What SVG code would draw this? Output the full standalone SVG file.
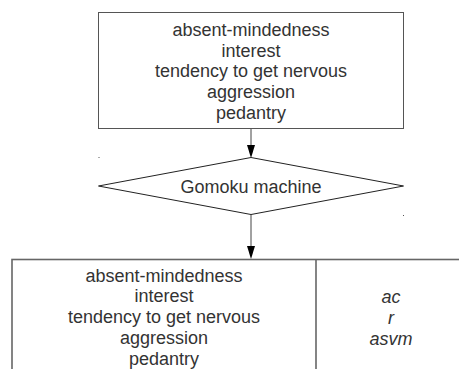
<svg xmlns="http://www.w3.org/2000/svg" width="459" height="369" viewBox="0 0 459 369">
<style>
  .lbl { font-family: "Liberation Sans", Arial, sans-serif; font-size: 18px; fill: #333; text-anchor: middle; }
  .it { font-style: italic; }
  .box { fill: #fff; stroke: #555; stroke-width: 1; }
  .box2 { fill: #fff; stroke: #666; stroke-width: 1.6; }
  .edge { fill: none; stroke: #444; stroke-width: 1; }
  .head { fill: #000; stroke: none; }
</style>
<rect width="459" height="369" fill="#fff"/>
<g id="connectors">
  <line class="edge" x1="251" y1="128.5" x2="251" y2="146"/>
  <polygon class="head" points="247,145 255,145 251,158"/>
  <line class="edge" x1="251" y1="214.5" x2="251" y2="247"/>
  <polygon class="head" points="247,246 255,246 251,259"/>
</g>
<g id="node-top">
  <rect class="box" x="98.5" y="12.5" width="305" height="116"/>
  <text class="lbl" x="251" y="36">absent-mindedness</text>
  <text class="lbl" x="251" y="56.7">interest</text>
  <text class="lbl" x="251" y="77.4">tendency to get nervous</text>
  <text class="lbl" x="251" y="98.1">aggression</text>
  <text class="lbl" x="251" y="118.8">pedantry</text>
</g>
<g id="node-decision">
  <polygon fill="#fff" stroke="#222" stroke-width="1" points="251,157.5 403.5,186 251,214.5 98.5,186"/>
  <text class="lbl" x="251" y="192.7">Gomoku machine</text>
  <rect x="98.5" y="157" width="1" height="1" fill="#555"/>
  <rect x="403" y="215" width="1" height="1" fill="#555"/>
</g>
<g id="node-bottom">
  <rect class="box2" x="12" y="259.5" width="470" height="130"/>
  <line class="box2" x1="316" y1="259.5" x2="316" y2="380"/>
  <text class="lbl" x="164" y="281.7">absent-mindedness</text>
  <text class="lbl" x="164" y="302.4">interest</text>
  <text class="lbl" x="164" y="323.1">tendency to get nervous</text>
  <text class="lbl" x="164" y="343.8">aggression</text>
  <text class="lbl" x="164" y="364.5">pedantry</text>
  <text class="lbl it" x="391" y="303.3">ac</text>
  <text class="lbl it" x="391" y="324.2">r</text>
  <text class="lbl it" x="391" y="345.2">asvm</text>
</g>
</svg>
